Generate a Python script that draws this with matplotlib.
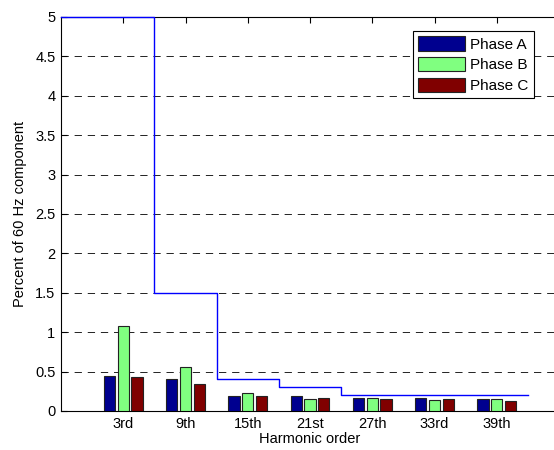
import matplotlib
matplotlib.use("Agg")
import matplotlib.pyplot as plt
import numpy as np

categories = ["3rd", "9th", "15th", "21st", "27th", "33rd", "39th"]
phase_a = [0.45, 0.41, 0.19, 0.19, 0.16, 0.16, 0.15]
phase_b = [1.08, 0.555, 0.23, 0.157, 0.16, 0.145, 0.148]
phase_c = [0.435, 0.34, 0.187, 0.16, 0.148, 0.148, 0.13]
series_names = ["Phase A", "Phase B", "Phase C"]
series_colors = ["#00008F", "#80FF80", "#800000"]
limit_values = [5.0, 1.5, 0.4, 0.3, 0.2, 0.2, 0.2]

plt.rcParams['font.family'] = ['Liberation Sans', 'DejaVu Sans']
FS = 10.5

fig = plt.figure(figsize=(5.54, 4.5), dpi=100)
ax = fig.add_axes([61/554, 39/450, 498/554, 394/450])

x = np.arange(1, len(categories) + 1)
offset = 0.22
width = 0.18
for i, (vals, name, col) in enumerate(zip([phase_a, phase_b, phase_c], series_names, series_colors)):
    ax.bar(x + (i - 1) * offset, vals, width=width, color=col, edgecolor="#222222",
           linewidth=0.8, label=name, zorder=3)

# limit step line
sx = [0]
sy = [limit_values[0]]
for k in range(1, len(limit_values)):
    if limit_values[k] != limit_values[k - 1]:
        sx += [k + 0.5, k + 0.5]
        sy += [limit_values[k - 1], limit_values[k]]
sx.append(len(limit_values) + 0.5)
sy.append(limit_values[-1])
ax.plot(sx, sy, color="#0000FF", linewidth=1.0, zorder=4, clip_on=False)

ax.set_xlim(0, 8)
ax.set_ylim(0, 5)
ax.set_xticks(x)
ax.set_xticklabels(categories)
ax.set_yticks(np.arange(0, 5.01, 0.5))
ax.set_yticklabels(["0", "0.5", "1", "1.5", "2", "2.5", "3", "3.5", "4", "4.5", "5"])
ax.yaxis.grid(True, linestyle=(0, (7.5, 6)), color="#222222", linewidth=0.7)
ax.set_axisbelow(True)
ax.tick_params(direction="in", length=4, width=0.8, labelsize=FS, top=True, right=False, pad=4)
ax.spines["right"].set_visible(False)
for s in ax.spines.values():
    s.set_linewidth(0.8)

ax.set_xlabel("Harmonic order", fontsize=FS, labelpad=1)
ax.set_ylabel("Percent of 60 Hz component", fontsize=FS, labelpad=6)

leg = ax.legend(loc="upper left", fontsize=11, fancybox=False, edgecolor="black", framealpha=1,
                handlelength=3.05, handleheight=1.05, labelspacing=0.35, borderpad=0.35,
                handletextpad=0.35, borderaxespad=0,
                bbox_to_anchor=(413/554, 1 - 31/450), bbox_transform=fig.transFigure)
leg.get_frame().set_linewidth(0.8)

fig.savefig("out.png", dpi=100)
